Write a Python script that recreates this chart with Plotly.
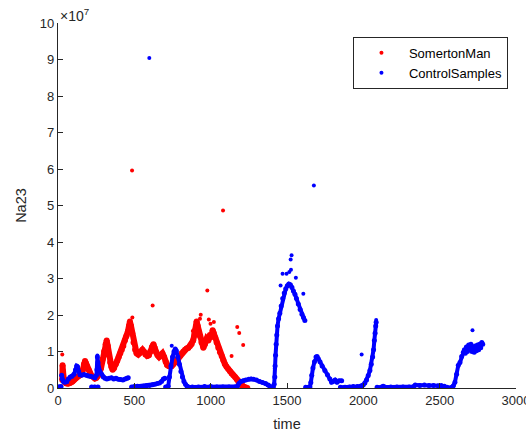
import plotly.graph_objects as go

# ---- SomertonMan (red): dense band, plus isolated points
red_t = [28, 30, 33, 38, 45, 55, 65, 75, 85, 95, 105, 115, 125, 135, 145, 155, 163, 170, 177, 183,
         190, 200, 210, 220, 232, 242, 252, 262, 272, 282, 292, 302, 312, 319, 326, 334, 342, 350,
         358, 368, 378, 388, 398, 408, 418, 428, 438, 448, 458, 465, 471, 478, 486, 495, 505, 515,
         525, 535, 545, 553, 562, 572, 585, 595, 605, 615, 625, 633, 642, 652, 662, 672, 684, 695,
         705, 715, 725, 735, 745, 755, 765, 775, 788, 799, 810, 821, 832, 843, 854, 865, 875, 885,
         893, 900, 908, 915, 922, 930, 940, 952, 962, 974, 985, 995, 1005, 1013, 1020, 1030, 1039,
         1050, 1061, 1072, 1083, 1093, 1104, 1115, 1126, 1137, 1148, 1159, 1170, 1181, 1192, 1203,
         1214, 1224, 1232, 1240]
red_v = [0.22, 0.62, 0.45, 0.25, 0.15, 0.13, 0.12, 0.13, 0.15, 0.18, 0.22, 0.26, 0.30, 0.33, 0.35,
         0.40, 0.50, 0.65, 0.74, 0.68, 0.60, 0.50, 0.40, 0.33, 0.30, 0.26, 0.28, 0.33, 0.42, 0.55,
         0.78, 1.00, 1.20, 1.30, 1.15, 0.90, 0.70, 0.58, 0.50, 0.55, 0.65, 0.75, 0.85, 0.95, 1.05,
         1.15, 1.30, 1.42, 1.55, 1.70, 1.82, 1.70, 1.50, 1.25, 1.05, 0.95, 0.92, 0.95, 1.00, 1.05,
         1.00, 0.92, 0.88, 0.90, 1.00, 1.12, 1.20, 1.10, 0.98, 0.90, 0.85, 0.90, 0.95, 0.85, 0.72,
         0.63, 0.60, 0.58, 0.60, 0.65, 0.70, 0.72, 0.80, 0.88, 0.95, 1.00, 1.05, 1.08, 1.10, 1.15,
         1.20, 1.30, 1.45, 1.60, 1.82, 1.70, 1.55, 1.42, 1.25, 1.10, 1.20, 1.35, 1.30, 1.45, 1.40,
         1.58, 1.50, 1.38, 1.25, 1.10, 0.98, 0.88, 0.76, 0.66, 0.58, 0.52, 0.46, 0.40, 0.35, 0.30,
         0.24, 0.17, 0.11, 0.07, 0.04, 0.02, 0.01, 0.00]
red_pt_t = [28, 487, 485, 620, 883, 930, 935, 978, 988, 999, 1021, 1081, 1137, 1174, 1187, 1213]
red_pt_v = [0.92, 1.93, 5.96, 2.26, 1.56, 1.90, 2.01, 2.67, 1.88, 1.76, 1.81, 4.86, 0.88, 1.67, 1.51, 1.18]

# ---- ControlSamples (blue): band pieces (None = gap between runs), plus isolated points
blue_t = [0, 10, 20, None,
          24, 28, 35, 45, 57, 68, 80, 92, 105, 115, 122, 128, 135, 144, 155, 170, 185, 200, 215, 230,
          242, 252, 255, 258, 262, 266, 275, 286, 297, 308, 320, 335, 350, 365, 380, 395, 410, 425,
          440, 452, 460, None,
          220, 240, 262, None,
          482, 500, 520, 540, 560, 580, 600, 620, 635, 650, 665, 678, 690, 700, None,
          705, 715, 722, 730, 740, 750, 760, 768, 775, 785, 795, 805, 815, 825, 835, 845, 855, 880,
          920, 960, 1000, 1040, 1080, 1120, 1160, 1175, 1185, 1198, 1213, 1230, 1250, 1265, 1280,
          1300, 1320, 1340, 1360, 1377, 1388, None,
          1395, 1410, 1416, 1420, 1422, 1425, 1429, 1433, 1438, 1445, 1453, 1462, 1472, 1482, 1492,
          1502, 1512, 1522, 1532, 1542, 1552, 1562, 1574, 1586, 1598, 1608, 1617, None,
          1622, 1640, 1650, 1656, 1662, 1670, 1680, 1690, 1697, 1705, 1716, 1730, 1748, 1765, 1781,
          1792, 1802, 1815, 1828, 1842, 1858, None,
          1850, 1880, 1910, 1934, 1960, 1980, 1990, 1999, 2010, 2021, 2032, 2043, 2052, 2061, 2067,
          2072, 2077, 2081, 2084, None,
          2090, 2120, 2130, 2140, 2180, 2220, 2260, 2300, 2330, 2340, 2370, 2400, 2430, 2460, 2490,
          2510, 2530, 2548, 2567, 2580, 2590, 2600, 2611, 2622, 2633, 2644, 2655, 2662, 2668, 2675,
          2682, 2690, 2698, 2705, 2712, 2719, 2726, 2733, 2740, 2748, 2755, 2762, 2769, 2776, 2782]
blue_v = [0.03, 0.03, 0.04, None,
          0.35, 0.25, 0.18, 0.16, 0.17, 0.25, 0.30, 0.32, 0.38, 0.50, 0.60, 0.58, 0.45, 0.36, 0.35,
          0.37, 0.35, 0.33, 0.32, 0.30, 0.28, 0.35, 0.50, 0.85, 0.70, 0.55, 0.45, 0.38, 0.30, 0.27,
          0.25, 0.27, 0.28, 0.25, 0.27, 0.24, 0.23, 0.22, 0.25, 0.27, 0.28, None,
          0.03, 0.03, 0.03, None,
          0.03, 0.04, 0.05, 0.04, 0.05, 0.06, 0.07, 0.09, 0.10, 0.12, 0.14, 0.18, 0.25, 0.27, None,
          0.03, 0.03, 0.05, 0.30, 0.60, 0.85, 1.00, 1.07, 1.02, 0.85, 0.65, 0.45, 0.30, 0.18, 0.10,
          0.05, 0.03, 0.03, 0.03, 0.04, 0.04, 0.03, 0.03, 0.03, 0.03, 0.05, 0.12, 0.18, 0.20, 0.22,
          0.24, 0.25, 0.24, 0.22, 0.18, 0.15, 0.12, 0.08, 0.05, None,
          0.02, 0.02, 0.10, 0.30, 0.60, 0.90, 1.20, 1.45, 1.70, 1.90, 2.05, 2.25, 2.45, 2.60, 2.72,
          2.80, 2.85, 2.83, 2.76, 2.66, 2.57, 2.45, 2.30, 2.15, 2.02, 1.93, 1.85, None,
          0.02, 0.02, 0.03, 0.15, 0.35, 0.55, 0.72, 0.85, 0.86, 0.80, 0.72, 0.60, 0.48, 0.36, 0.25,
          0.16, 0.18, 0.22, 0.16, 0.20, 0.20, None,
          0.02, 0.02, 0.03, 0.04, 0.04, 0.05, 0.06, 0.08, 0.14, 0.22, 0.34, 0.48, 0.65, 0.85, 1.05,
          1.30, 1.50, 1.70, 1.80, None,
          0.02, 0.03, 0.05, 0.03, 0.03, 0.03, 0.03, 0.03, 0.04, 0.08, 0.07, 0.08, 0.07, 0.07, 0.06,
          0.07, 0.05, 0.02, 0.00, 0.02, 0.06, 0.16, 0.38, 0.62, 0.70, 0.86, 0.98, 1.05, 0.95, 1.12,
          1.00, 1.18, 1.05, 1.20, 1.00, 1.12, 0.98, 1.15, 1.02, 1.18, 1.05, 1.20, 1.10, 1.25, 1.20]
blue_pt_t = [598, 1676, 1530, 1524, 1526, 1471, 1558, 1458, 1607, 1497, 1515, 1421, 1989, 2715,
             745, 258, 2084]
blue_pt_v = [9.04, 5.55, 3.64, 3.52, 3.24, 3.13, 3.02, 2.81, 2.58, 3.13, 3.18, 0.54, 0.92, 1.58,
             1.16, 0.89, 1.86]

x_ticks = [0, 500, 1000, 1500, 2000, 2500, 3000]
y_ticks = list(range(0, 11))

RED = "#ff0000"
BLUE = "#0000ff"
INK = "#262626"
FONT = "Liberation Sans, Arial, sans-serif"

fig = go.Figure()
fig.add_trace(go.Scatter(x=red_t, y=red_v, mode="lines+markers", line=dict(color=RED, width=6),
                         marker=dict(color=RED, size=6), showlegend=False, hoverinfo="skip"))
fig.add_trace(go.Scatter(x=red_pt_t, y=red_pt_v, mode="markers", name="SomertonMan",
                         marker=dict(color=RED, size=4)))
fig.add_trace(go.Scatter(x=blue_t, y=blue_v, mode="lines+markers", line=dict(color=BLUE, width=4),
                         marker=dict(color=BLUE, size=5), showlegend=False, hoverinfo="skip",
                         connectgaps=False))
fig.add_trace(go.Scatter(x=blue_pt_t, y=blue_pt_v, mode="markers", name="ControlSamples",
                         marker=dict(color=BLUE, size=4)))

axis_common = dict(showline=True, linecolor=INK, linewidth=1.3, ticks="inside", ticklen=5,
                   tickcolor=INK, tickwidth=1, showgrid=False, zeroline=False, mirror=False,
                   automargin=False, tickfont=dict(family=FONT, size=13, color=INK))

fig.update_layout(
    width=526, height=432,
    margin=dict(l=58, r=10, t=23, b=44),
    paper_bgcolor="white", plot_bgcolor="white",
    font=dict(family=FONT, size=13, color=INK),
    xaxis=dict(range=[0, 3000], tickvals=x_ticks, ticktext=[str(v) for v in x_ticks],
               ticklabeloverflow="allow",
               title=dict(text="time", font=dict(family=FONT, size=14.5, color=INK), standoff=15),
               **axis_common),
    yaxis=dict(range=[0, 10], tickvals=y_ticks, ticktext=[str(v) for v in y_ticks],
               title=dict(text="Na23", font=dict(family=FONT, size=14.5, color=INK), standoff=9),
               **axis_common),
    legend=dict(x=0.644, y=0.962, xanchor="left", yanchor="top", bgcolor="white",
                bordercolor=INK, borderwidth=1, itemwidth=45, tracegroupgap=0,
                font=dict(family=FONT, size=13, color="#000000")),
    annotations=[dict(text="×10<sup>7</sup>", x=0, y=1, xref="paper", yref="paper",
                      xanchor="left", yanchor="bottom", showarrow=False, yshift=-3,
                      font=dict(family=FONT, size=14, color=INK))],
    showlegend=True,
)

fig.write_html("out.html")
